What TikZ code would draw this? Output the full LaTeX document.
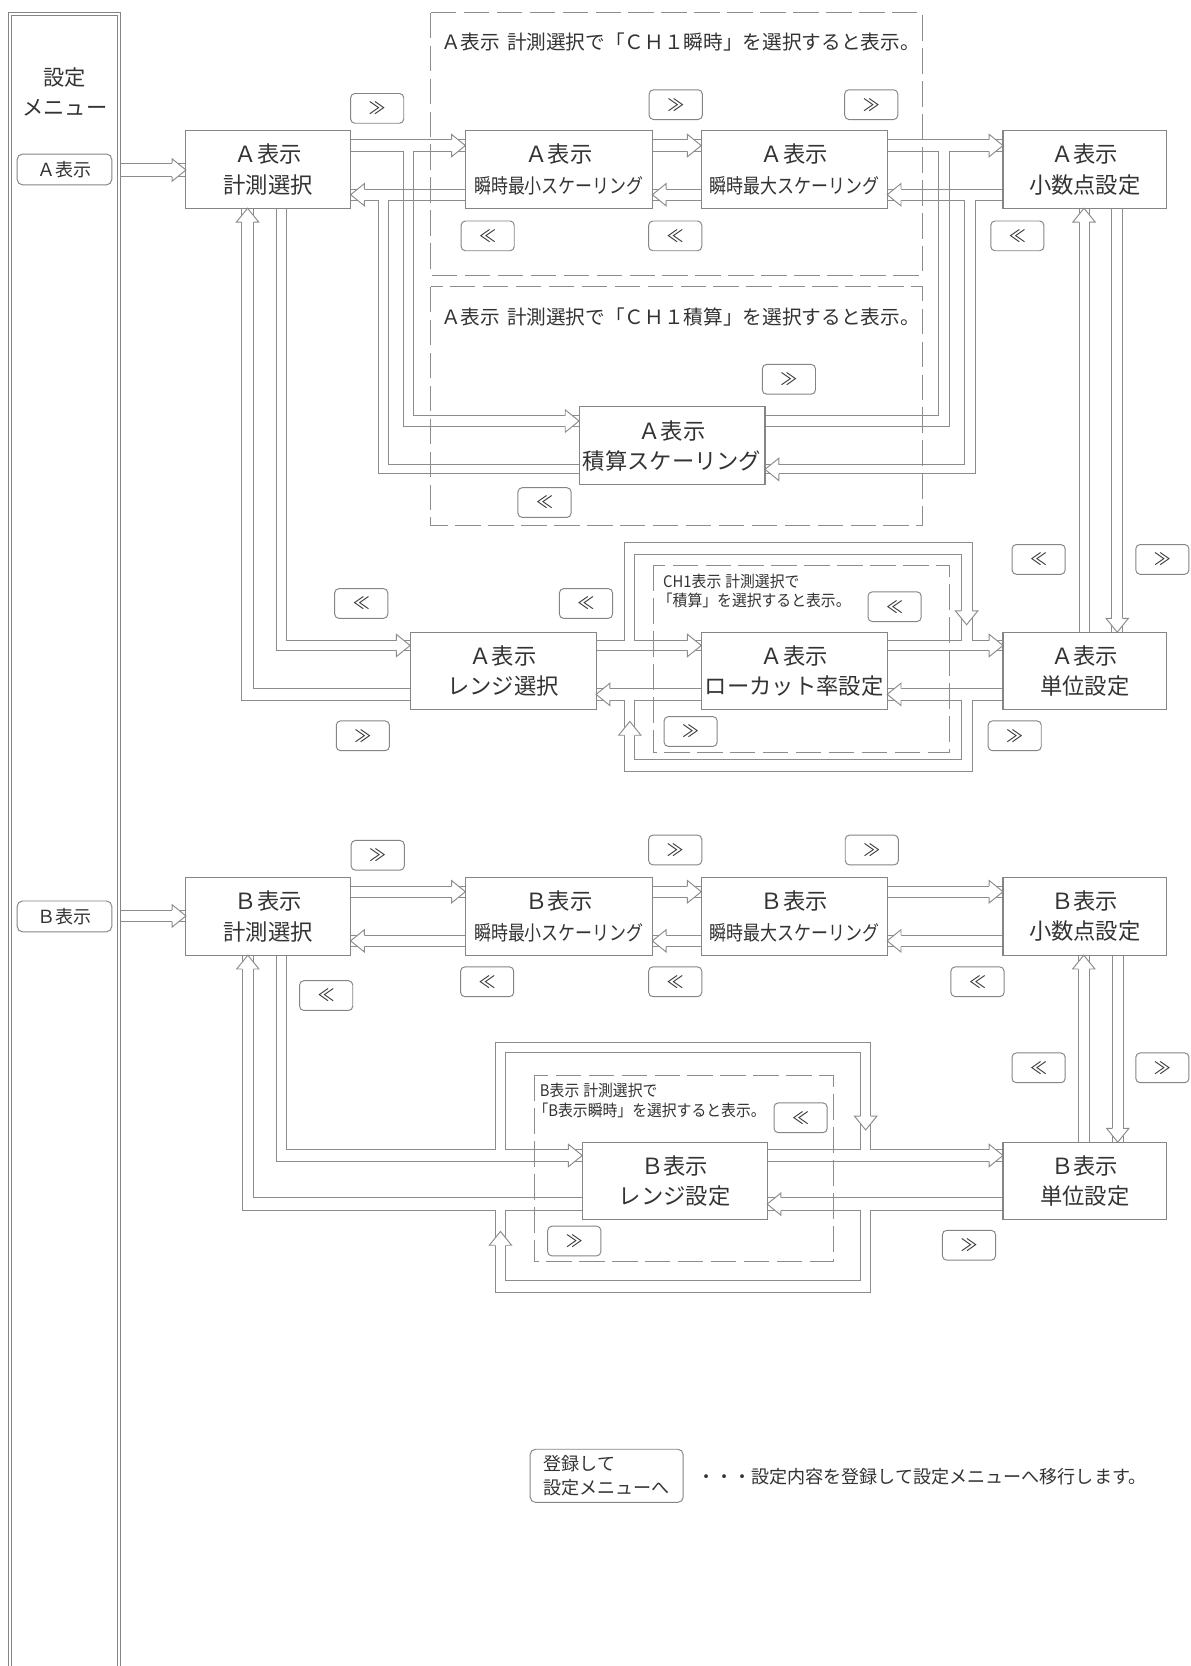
\documentclass[tikz,border=0pt]{standalone}
\usepackage{fontspec}
\setmainfont{Noto Sans CJK JP}
\newfontfamily\cndf{Noto Sans CJK JP}[FakeStretch=0.84]
\newfontfamily\cndg{Noto Sans CJK JP}[FakeStretch=0.93]
\definecolor{lc}{HTML}{8C8C8C}
\definecolor{bc}{HTML}{858585}
\definecolor{tc}{HTML}{333333}
\tikzset{
 ln/.style={draw=lc, line width=0.9pt, line join=miter},
 hd/.style={draw=lc, fill=white, line width=0.9pt, line join=miter},
 box/.style={draw=bc, fill=white, line width=1pt, inner sep=0pt, outer sep=0pt, align=center, text=tc, font=\fontsize{21}{28.5}\selectfont},
 btn/.style={draw=bc, fill=white, rounded corners=4pt, line width=0.9pt, minimum width=50pt, minimum height=28pt, inner sep=0pt, outer sep=0pt, text=tc, font=\fontsize{16}{16}\selectfont},
 dsh/.style={draw=lc, line width=0.9pt, dash pattern=on 24pt off 7pt},
 lbl/.style={text=tc, inner sep=0pt, anchor=west},
}
% hollow arrow heads: tip, first line, second line
\newcommand\hdR[3]{\filldraw[hd] ({#1-13},#2) -- ({#1-13},{(#2+#3)/2-10.5}) -- (#1,{(#2+#3)/2}) -- ({#1-13},{(#2+#3)/2+10.5}) -- ({#1-13},#3);}
\newcommand\hdL[3]{\filldraw[hd] ({#1+13},#2) -- ({#1+13},{(#2+#3)/2-10.5}) -- (#1,{(#2+#3)/2}) -- ({#1+13},{(#2+#3)/2+10.5}) -- ({#1+13},#3);}
\newcommand\hdD[3]{\filldraw[hd] (#2,{#1-13}) -- ({(#2+#3)/2-10.5},{#1-13}) -- ({(#2+#3)/2},#1) -- ({(#2+#3)/2+10.5},{#1-13}) -- (#3,{#1-13});}
\newcommand\hdU[3]{\filldraw[hd] (#2,{#1+13}) -- ({(#2+#3)/2-10.5},{#1+13}) -- ({(#2+#3)/2},#1) -- ({(#2+#3)/2+10.5},{#1+13}) -- (#3,{#1+13});}
\newcommand\smline[1]{{\cndf\fontsize{19}{28.5}\selectfont #1}}
\begin{document}
\begin{tikzpicture}[x=1pt,y=-1pt]
\fill[white] (0,0) rectangle (1120,1568);
\useasboundingbox (0,0) rectangle (1120,1568);

% menu bar
\node[draw=bc, line width=0.9pt, minimum width=105pt, minimum height=1600pt, anchor=north west, inner sep=0pt, outer sep=0pt] (menu) at (8,12) {};
\draw[draw=bc, line width=0.9pt] (10.5,14.5) rectangle (110.5,1620);
\node[text=tc, align=center, font=\fontsize{20}{28}\selectfont] (menut) at (61,86.5) {設定\\メニュー};
\node[btn, minimum width=89pt, minimum height=29pt, rounded corners=5pt, font=\fontsize{17}{17}\selectfont] (btnA) at (60.7,159.5) {Ａ表示};
\node[btn, minimum width=89pt, minimum height=29pt, rounded corners=5pt, font=\fontsize{17}{17}\selectfont] (btnB) at (60.7,862.5) {Ｂ表示};

% dashed regions
\draw[dsh] (405.5,12) rectangle (868,259);
\draw[dsh] (405.5,270) rectangle (868,495);
\draw[dsh] (615,532) rectangle (894,708);
\draw[dsh] (503,1012) rectangle (784,1187);
\node[lbl, font=\fontsize{18.5}{18.5}\selectfont] (d1t) at (415,40) {Ａ表示\hspace{0.35em}計測選択で「ＣＨ１瞬時」を選択すると表示。};
\node[lbl, font=\fontsize{18.5}{18.5}\selectfont] (d2t) at (415,298.5) {Ａ表示\hspace{0.35em}計測選択で「ＣＨ１積算」を選択すると表示。};
\node[lbl, font=\cndg\fontsize{15}{15}\selectfont] (d3t1) at (624,547.5) {CH1表示\hspace{0.25em}計測選択で};
\node[lbl, font=\cndg\fontsize{15}{15}\selectfont] (d3t2) at (619,565) {「積算」を選択すると表示。};
\node[lbl, font=\cndg\fontsize{15}{15}\selectfont] (d4t1) at (508,1026) {B表示\hspace{0.25em}計測選択で};
\node[lbl, font=\cndg\fontsize{15}{15}\selectfont] (d4t2) at (502,1044.7) {「B表示瞬時」を選択すると表示。};

% boxes (coordinates only, drawn later)
\path
 (252.5,159.5) coordinate (pB1) (526,159.5) coordinate (pB2) (747.5,159.5) coordinate (pB3) (1021,159.5) coordinate (pB4)
 (632.5,419.5) coordinate (pB5) (473.5,631.5) coordinate (pB6) (747.5,631.5) coordinate (pB7) (1021,631.5) coordinate (pB8)
 (252.5,862.5) coordinate (pC1) (526,862.5) coordinate (pC2) (747.5,862.5) coordinate (pC3) (1021,862.5) coordinate (pC4)
 (635,1111.5) coordinate (pC5) (1021,1111.5) coordinate (pC6);
\node[box, minimum width=155pt, minimum height=73pt] (B1) at (pB1) {Ａ表示\\計測選択};
\node[box, minimum width=176pt, minimum height=73pt] (B2) at (pB2) {Ａ表示\\\smline{瞬時最小スケーリング}};
\node[box, minimum width=175pt, minimum height=73pt] (B3) at (pB3) {Ａ表示\\\smline{瞬時最大スケーリング}};
\node[box, minimum width=154pt, minimum height=73pt] (B4) at (pB4) {Ａ表示\\小数点設定};
\node[box, minimum width=175pt, minimum height=73pt] (B5) at (pB5) {Ａ表示\\積算スケーリング};
\node[box, minimum width=175pt, minimum height=73pt] (B6) at (pB6) {Ａ表示\\レンジ選択};
\node[box, minimum width=175pt, minimum height=73pt] (B7) at (pB7) {Ａ表示\\ローカット率設定};
\node[box, minimum width=154pt, minimum height=73pt] (B8) at (pB8) {Ａ表示\\単位設定};
\node[box, minimum width=155pt, minimum height=73pt] (C1) at (pC1) {Ｂ表示\\計測選択};
\node[box, minimum width=176pt, minimum height=73pt] (C2) at (pC2) {Ｂ表示\\\smline{瞬時最小スケーリング}};
\node[box, minimum width=175pt, minimum height=73pt] (C3) at (pC3) {Ｂ表示\\\smline{瞬時最大スケーリング}};
\node[box, minimum width=154pt, minimum height=73pt] (C4) at (pC4) {Ｂ表示\\小数点設定};
\node[box, minimum width=174pt, minimum height=73pt] (C5) at (pC5) {Ｂ表示\\レンジ設定};
\node[box, minimum width=154pt, minimum height=73pt] (C6) at (pC6) {Ｂ表示\\単位設定};

% ===== Row A connectors =====
\draw[ln] (menu.east|-0,153.5) -- (B1.west|-0,153.5);
\draw[ln] (menu.east|-0,166.5) -- (B1.west|-0,166.5);
\hdR{175}{153.5}{166.5}
% forward B1 -> B2 / B5
\draw[ln] (B1.east|-0,131.5) -- (B2.west|-0,131.5);
\draw[ln] (B1.east|-0,142.5) -- (379.5,142.5) -- (379.5,401.5) -- (B5.west|-0,401.5);
\draw[ln] (B2.west|-0,142.5) -- (389.5,142.5) -- (389.5,391) -- (B5.west|-0,391);
\hdR{438}{131.5}{142.5}
\hdR{545}{391}{401.5}
\draw[ln] (B2.east|-0,131.5) -- (B3.west|-0,131.5);
\draw[ln] (B2.east|-0,142.5) -- (B3.west|-0,142.5);
\hdR{660}{131.5}{142.5}
\draw[ln] (B3.east|-0,131.5) -- (B4.west|-0,131.5);
\draw[ln] (B3.east|-0,142.5) -- (883,142.5) -- (883,391) -- (B5.east|-0,391);
\draw[ln] (B4.west|-0,142.5) -- (893.5,142.5) -- (893.5,401.5) -- (B5.east|-0,401.5);
\hdR{944}{131.5}{142.5}
% back
\draw[ln] (B4.west|-0,178) -- (B3.east|-0,178);
\draw[ln] (B3.east|-0,188.5) -- (908,188.5) -- (908,437.5) -- (B5.east|-0,437.5);
\draw[ln] (B4.west|-0,188.5) -- (918.5,188.5) -- (918.5,446) -- (B5.east|-0,446);
\hdL{835}{178}{188.5}
\hdL{720}{437.5}{446}
\draw[ln] (B3.west|-0,178) -- (B2.east|-0,178);
\draw[ln] (B3.west|-0,188.5) -- (B2.east|-0,188.5);
\hdL{614}{178}{188.5}
\draw[ln] (B2.west|-0,178) -- (B1.east|-0,178);
\draw[ln] (B1.east|-0,188.5) -- (356,188.5) -- (356,446) -- (B5.west|-0,446);
\draw[ln] (B2.west|-0,188.5) -- (365.5,188.5) -- (365.5,437.5) -- (B5.west|-0,437.5);
\hdL{330}{178}{188.5}
% B1 <-> B6
\draw[ln] (B1.south-|260.5,0) -- (260.5,612) -- (B6.west|-0,612);
\draw[ln] (B1.south-|270,0) -- (270,603) -- (B6.west|-0,603);
\hdR{386}{603}{612}
\draw[ln] (B6.west|-0,648) -- (238.5,648) -- (B1.south-|238.5,0);
\draw[ln] (B6.west|-0,659) -- (227.5,659) -- (B1.south-|227.5,0);
\hdU{196}{227.5}{238.5}
% bypass top
\draw[ln] (B6.east|-0,603) -- (588,603) -- (588,511) -- (915,511) -- (915,603) -- (B8.west|-0,603);
\draw[ln] (B7.west|-0,603) -- (597.5,603) -- (597.5,522) -- (904.5,522) -- (904.5,603) -- (B7.east|-0,603);
\draw[ln] (B6.east|-0,612) -- (B7.west|-0,612);
\draw[ln] (B7.east|-0,612) -- (B8.west|-0,612);
\hdR{660}{603}{612}
\hdR{944}{603}{612}
\hdD{588}{904.5}{915}
% bypass bottom
\draw[ln] (B8.west|-0,659) -- (915,659) -- (915,726) -- (588,726) -- (588,659) -- (B6.east|-0,659);
\draw[ln] (B7.east|-0,659) -- (904.5,659) -- (904.5,715) -- (597.5,715) -- (597.5,659) -- (B7.west|-0,659);
\draw[ln] (B8.west|-0,648) -- (B7.east|-0,648);
\draw[ln] (B7.west|-0,648) -- (B6.east|-0,648);
\hdL{835}{648}{659}
\hdL{561}{648}{659}
\hdU{679}{588}{597.5}
% B4 <-> B8
\draw[ln] (B8.north-|1015.5,0) -- (B4.south-|1015.5,0);
\draw[ln] (B8.north-|1025,0) -- (B4.south-|1025,0);
\hdU{196}{1015.5}{1025}
\draw[ln] (B4.south-|1046.5,0) -- (B8.north-|1046.5,0);
\draw[ln] (B4.south-|1056.5,0) -- (B8.north-|1056.5,0);
\hdD{595}{1046.5}{1056.5}

% ===== Row B connectors =====
\draw[ln] (menu.east|-0,856.5) -- (C1.west|-0,856.5);
\draw[ln] (menu.east|-0,867.5) -- (C1.west|-0,867.5);
\hdR{175}{856.5}{867.5}
\draw[ln] (C1.east|-0,834) -- (C2.west|-0,834);
\draw[ln] (C1.east|-0,844.5) -- (C2.west|-0,844.5);
\hdR{438}{834}{844.5}
\draw[ln] (C2.east|-0,834) -- (C3.west|-0,834);
\draw[ln] (C2.east|-0,844.5) -- (C3.west|-0,844.5);
\hdR{660}{834}{844.5}
\draw[ln] (C3.east|-0,834) -- (C4.west|-0,834);
\draw[ln] (C3.east|-0,844.5) -- (C4.west|-0,844.5);
\hdR{944}{834}{844.5}
\draw[ln] (C4.west|-0,880) -- (C3.east|-0,880);
\draw[ln] (C4.west|-0,891) -- (C3.east|-0,891);
\hdL{835}{880}{891}
\draw[ln] (C3.west|-0,880) -- (C2.east|-0,880);
\draw[ln] (C3.west|-0,891) -- (C2.east|-0,891);
\hdL{614}{880}{891}
\draw[ln] (C2.west|-0,880) -- (C1.east|-0,880);
\draw[ln] (C2.west|-0,891) -- (C1.east|-0,891);
\hdL{330}{880}{891}
% C1 -> C5 / C6
\draw[ln] (C1.south-|260.5,0) -- (260.5,1093) -- (C5.west|-0,1093);
\draw[ln] (C1.south-|270,0) -- (270,1082) -- (466,1082) -- (466,981) -- (819.5,981) -- (819.5,1082) -- (C6.west|-0,1082);
\draw[ln] (C5.west|-0,1082) -- (476,1082) -- (476,991) -- (810,991) -- (810,1082) -- (C5.east|-0,1082);
\draw[ln] (C5.east|-0,1093) -- (C6.west|-0,1093);
\hdR{548}{1082}{1093}
\hdR{944}{1082}{1093}
\hdD{1063.5}{810}{819.5}
% back C6 -> C5 / C1
\draw[ln] (C6.west|-0,1127) -- (C5.east|-0,1127);
\draw[ln] (C6.west|-0,1139.5) -- (819.5,1139.5) -- (819.5,1216) -- (466,1216) -- (466,1139.5) -- (228,1139.5) -- (C1.south-|228,0);
\draw[ln] (C5.east|-0,1139.5) -- (810,1139.5) -- (810,1205) -- (476,1205) -- (476,1139.5) -- (C5.west|-0,1139.5);
\draw[ln] (C5.west|-0,1127) -- (238.5,1127) -- (C1.south-|238.5,0);
\hdL{722}{1127}{1139.5}
\hdU{899}{228}{238.5}
\hdU{1159}{466}{476}
% C4 <-> C6
\draw[ln] (C6.north-|1015,0) -- (C4.south-|1015,0);
\draw[ln] (C6.north-|1025,0) -- (C4.south-|1025,0);
\hdU{899}{1015}{1025}
\draw[ln] (C4.south-|1047,0) -- (C6.north-|1047,0);
\draw[ln] (C4.south-|1057,0) -- (C6.north-|1057,0);
\hdD{1075}{1047}{1057}

% redraw boxes on top
\foreach \n in {B1,B2,B3,B4,B5,B6,B7,B8,C1,C2,C3,C4,C5,C6}{\draw[draw=bc, line width=1pt] (\n.north west) rectangle (\n.south east);}

% small buttons
\node[btn] (a1) at (355,102) {≫};
\node[btn] (a2) at (636,98.5) {≫};
\node[btn] (a3) at (820,98.5) {≫};
\node[btn] (a4) at (459,222) {≪};
\node[btn] (a5) at (635.5,222) {≪};
\node[btn] (a6) at (957.5,222) {≪};
\node[btn] (a7) at (742.5,357) {≫};
\node[btn] (a8) at (512.5,473) {≪};
\node[btn] (a9) at (340,568) {≪};
\node[btn] (a10) at (551.5,568) {≪};
\node[btn] (a11) at (842,571) {≪};
\node[btn] (a12) at (977.5,526.5) {≪};
\node[btn] (a13) at (1094,526.5) {≫};
\node[btn] (a14) at (341.5,692.5) {≫};
\node[btn] (a15) at (650,688.5) {≫};
\node[btn] (a16) at (955,692.5) {≫};
\node[btn] (b1) at (355.5,805) {≫};
\node[btn] (b2) at (635.5,800) {≫};
\node[btn] (b3) at (820.5,800) {≫};
\node[btn] (b4) at (307,937) {≪};
\node[btn] (b5) at (458.5,924) {≪};
\node[btn] (b6) at (635.5,924) {≪};
\node[btn] (b7) at (920,924) {≪};
\node[btn] (b8) at (977.5,1005) {≪};
\node[btn] (b9) at (1094,1005) {≫};
\node[btn] (b10) at (753.5,1052) {≪};
\node[btn] (b11) at (540.5,1168) {≫};
\node[btn] (b12) at (912,1172) {≫};

% legend
\node[btn, minimum width=144pt, minimum height=50pt, rounded corners=5pt, align=left, font=\fontsize{17}{22}\selectfont] (reg) at (571,1389) {登録して\\設定メニューへ};
\node[lbl, font=\fontsize{17}{17}\selectfont] (regt) at (656,1390) {・・・設定内容を登録して設定メニューへ移行します。};
\end{tikzpicture}
\end{document}
